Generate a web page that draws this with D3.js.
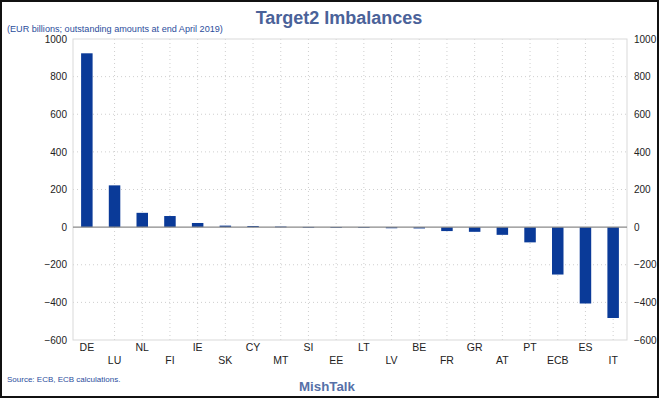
<!DOCTYPE html>
<html><head><meta charset="utf-8">
<script src="https://cdn.jsdelivr.net/npm/d3@7/dist/d3.min.js"></script>
<style>body{margin:0;background:#fff;}svg{display:block;font-family:Arial,"Liberation Sans",sans-serif;}</style>
</head><body>
<svg id="c" width="660" height="399"></svg>
<script>
const categories = ["DE","LU","NL","FI","IE","SK","CY","MT","SI","EE","LT","LV","BE","FR","GR","AT","PT","ECB","ES","IT"];
const values = [924,222,76,59,22,8,6,3,1,-1,-4,-6,-7,-21,-25,-41,-81,-252,-406,-483];
const yTicks = [1000,800,600,400,200,0,-200,-400,-600];

const svg = d3.select("#c");
const L = 73, R = 627, T = 39, B = 340;
const x = d3.scaleBand().domain(categories).range([L, R]).padding(0);
const y = d3.scaleLinear().domain([-600, 1000]).range([B, T]);

svg.append("rect").attr("x",1).attr("y",1).attr("width",657).attr("height",396)
  .attr("fill","#fff").attr("stroke","#111").attr("stroke-width",2);

// gridlines
const g = svg.append("g");
g.selectAll(".hg").data(yTicks.filter(d=>d!==0 && d!==1000 && d!==-600)).join("line")
  .attr("x1",L).attr("x2",R).attr("y1",d=>y(d)).attr("y2",d=>y(d))
  .attr("stroke","#cfcfcf").attr("stroke-width",1).attr("stroke-dasharray","1,3");
g.selectAll(".vg").data(categories.slice(1)).join("line")
  .attr("x1",d=>x(d)+x.bandwidth()/2).attr("x2",d=>x(d)+x.bandwidth()/2)
  .attr("y1",T).attr("y2",B)
  .attr("stroke","#cfcfcf").attr("stroke-width",1).attr("stroke-dasharray","1,3");

// plot border
svg.append("rect").attr("x",L).attr("y",T).attr("width",R-L).attr("height",B-T)
  .attr("fill","none").attr("stroke","#d9d9d9").attr("stroke-width",1);

// bars
const bw = 11.5;
svg.append("g").selectAll("rect").data(values).join("rect")
  .attr("x",(d,i)=>x(categories[i])+x.bandwidth()/2-bw/2)
  .attr("width",bw)
  .attr("y",d=>y(Math.max(0,d)))
  .attr("height",d=>Math.max(0.8,Math.abs(y(d)-y(0))))
  .attr("fill","#0a3a98");

// zero line
svg.append("line").attr("x1",L).attr("x2",R).attr("y1",y(0)).attr("y2",y(0))
  .attr("stroke","#8a8a8a").attr("stroke-width",1.2);

// y axes
const fmt = d3.format("d");
const axL = d3.axisLeft(y).tickValues(yTicks).tickFormat(fmt).tickSize(0).tickPadding(6);
const axR = d3.axisRight(y).tickValues(yTicks).tickFormat(fmt).tickSize(0).tickPadding(7);
const gl = svg.append("g").attr("transform",`translate(${L},0)`).call(axL);
const gr = svg.append("g").attr("transform",`translate(${R},0)`).call(axR);
[gl,gr].forEach(a=>{
  a.select(".domain").remove();
  a.selectAll("text").attr("font-size","10px").attr("fill","#222").attr("font-family","Arial,'Liberation Sans',sans-serif");
});

// x axis labels (staggered)
const axB = d3.axisBottom(x).tickSize(0).tickPadding(0);
const gb = svg.append("g").attr("transform",`translate(0,${B})`).call(axB);
gb.select(".domain").remove();
gb.selectAll("text").attr("font-size","10.5px").attr("fill","#222")
  .attr("font-family","Arial,'Liberation Sans',sans-serif")
  .attr("dy",null)
  .attr("y",(d,i)=> i%2===0 ? 11 : 24);

// titles
svg.append("text").attr("x",339).attr("y",24).attr("text-anchor","middle")
  .attr("font-size","18px").attr("font-weight","bold").attr("fill","#4a6299").text("Target2 Imbalances");
svg.append("text").attr("x",7).attr("y",32)
  .attr("font-size","9.1px").attr("fill","#2b4d9c").text("(EUR billions; outstanding amounts at end April 2019)");
svg.append("text").attr("x",7).attr("y",382)
  .attr("font-size","8px").attr("fill","#2b4d9c").text("Source: ECB, ECB calculations.");
svg.append("text").attr("x",327).attr("y",391).attr("text-anchor","middle")
  .attr("font-size","13.3px").attr("font-weight","bold").attr("fill","#5670a8").text("MishTalk");
</script>
</body></html>
